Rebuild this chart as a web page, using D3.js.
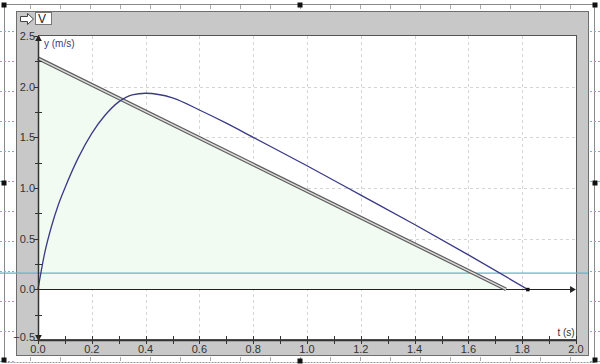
<!DOCTYPE html>
<html>
<head>
<meta charset="utf-8">
<script src="https://cdn.jsdelivr.net/npm/d3@7"></script>
<style>
  body { margin: 0; background: #fff; }
  text { font-family: 'Liberation Sans', Arial, sans-serif; }
</style>
</head>
<body>
<div id="chart"></div>
<script>
// measured velocity (navy curve)
const timeValues = [0, 0.025, 0.05, 0.075, 0.1, 0.15, 0.2, 0.25, 0.3, 0.35, 0.4, 0.5, 0.6, 0.7, 0.8, 1.0, 1.2, 1.4, 1.6, 1.82]
const velocityValues = [0, 0.36, 0.62, 0.83, 1.0, 1.3, 1.54, 1.72, 1.85, 1.92, 1.935, 1.89, 1.77, 1.64, 1.5, 1.22, 0.93, 0.64, 0.34, 0]

// fitted line (double line + green area)
const fitTimes = [0, 1.74]
const fitValues = [2.28, 0]

// horizontal cursor line
const cursorValue = 0.16

const xTicks = [0, 0.2, 0.4, 0.6, 0.8, 1.0, 1.2, 1.4, 1.6, 1.8, 2.0]
const xMinorTicks = [0.1, 0.3, 0.5, 0.7, 0.9, 1.1, 1.3, 1.5, 1.7, 1.9]
const yTicks = [-0.5, 0, 0.5, 1.0, 1.5, 2.0, 2.5]
const yMinorTicks = [-0.25, 0.25, 0.75, 1.25, 1.75, 2.25]

const title = 'V'
const xLabel = 't (s)'
const yLabel = 'y (m/s)'

let width = 600
let height = 364

let svg = d3
  .select('#chart')
  .append('svg')
  .attr('width', width)
  .attr('height', height)

let xScale = d3.scaleLinear().domain([0, 2]).range([38, 576])
let yScale = d3.scaleLinear().domain([-0.5, 2.5]).range([340, 36])

// page frame + sheet ruler marks
svg
  .append('path')
  .attr('d', 'M4.5,362.5 V4.5 H594.5 V362.5')
  .attr('fill', 'none')
  .attr('stroke', '#8a8a8a')
svg
  .append('line')
  .attr('x1', 4.5)
  .attr('x2', 594.5)
  .attr('y1', 362.5)
  .attr('y2', 362.5)
  .attr('stroke', '#999')
  .attr('stroke-dasharray', '2,1')

let rulerX = d3.range(30, 600, 30)
let rulerY = d3.range(31, 362, 30)

svg
  .selectAll('.ruler-top')
  .data(rulerX)
  .enter()
  .append('line')
  .attr('x1', d => d + 0.5)
  .attr('x2', d => d + 0.5)
  .attr('y1', 5)
  .attr('y2', 9)
  .attr('stroke', '#aaa')
svg
  .selectAll('.ruler-bottom')
  .data(rulerX)
  .enter()
  .append('line')
  .attr('x1', d => d + 0.5)
  .attr('x2', d => d + 0.5)
  .attr('y1', 357)
  .attr('y2', 361)
  .attr('stroke', '#aaa')
svg
  .selectAll('.ruler-left')
  .data(rulerY)
  .enter()
  .append('line')
  .attr('x1', 0)
  .attr('x2', 15)
  .attr('y1', d => d + 0.5)
  .attr('y2', d => d + 0.5)
  .attr('stroke', '#6fb8c8')
  .attr('stroke-dasharray', '2,2')
svg
  .selectAll('.ruler-right')
  .data(rulerY)
  .enter()
  .append('line')
  .attr('x1', 590)
  .attr('x2', 600)
  .attr('y1', d => d + 0.5)
  .attr('y2', d => d + 0.5)
  .attr('stroke', '#6fb8c8')
  .attr('stroke-dasharray', '2,2')

// gray window panel
svg
  .append('rect')
  .attr('x', 16.5)
  .attr('y', 11.5)
  .attr('width', 572)
  .attr('height', 344)
  .attr('fill', '#c8c8c8')
  .attr('stroke', '#6e6e6e')

// title arrow icon + box
svg
  .append('path')
  .attr('d', 'M20.5,16.5 H27.5 V13.5 L33.5,19 L27.5,24.5 V21.5 H20.5 Z')
  .attr('fill', '#fff')
  .attr('stroke', '#444')
svg
  .append('rect')
  .attr('x', 35.5)
  .attr('y', 12.5)
  .attr('width', 16)
  .attr('height', 12)
  .attr('fill', '#fff')
  .attr('stroke', '#777')
svg
  .append('text')
  .attr('x', 38)
  .attr('y', 23)
  .attr('font-size', 12)
  .attr('fill', '#222')
  .text(title)

// plot area
svg
  .append('rect')
  .attr('x', 38.5)
  .attr('y', 35.5)
  .attr('width', 538)
  .attr('height', 304)
  .attr('fill', '#fff')
  .attr('stroke', '#555')

// grid
svg
  .selectAll('.grid-x')
  .data(xTicks.slice(1, -1))
  .enter()
  .append('line')
  .attr('class', 'grid-x')
  .attr('x1', d => Math.round(xScale(d)) + 0.5)
  .attr('x2', d => Math.round(xScale(d)) + 0.5)
  .attr('y1', yScale(2.5))
  .attr('y2', yScale(-0.5))
  .attr('stroke', '#d4d4d4')
  .attr('stroke-dasharray', '3,3')
svg
  .selectAll('.grid-y')
  .data(yTicks.slice(1, -1))
  .enter()
  .append('line')
  .attr('class', 'grid-y')
  .attr('x1', xScale(0))
  .attr('x2', xScale(2))
  .attr('y1', d => Math.round(yScale(d)) + 0.5)
  .attr('y2', d => Math.round(yScale(d)) + 0.5)
  .attr('stroke', '#d4d4d4')
  .attr('stroke-dasharray', '3,3')

let fitData = fitTimes.map((t, i) => ({ t: t, v: fitValues[i] }))
let curveData = timeValues.map((t, i) => ({ t: t, v: velocityValues[i] }))

// green area under fit line
let area = d3
  .area()
  .x(d => xScale(d.t))
  .y0(yScale(0))
  .y1(d => yScale(d.v))

svg
  .append('path')
  .datum(fitData)
  .attr('d', area)
  .attr('fill', '#f1fbf1')

// cursor line
svg
  .append('line')
  .attr('x1', 0)
  .attr('x2', 588)
  .attr('y1', yScale(cursorValue))
  .attr('y2', yScale(cursorValue))
  .attr('stroke', '#62b4cf')
  .attr('stroke-width', 1.2)

// zero line with arrow
svg
  .append('line')
  .attr('x1', xScale(0))
  .attr('x2', xScale(2) - 2)
  .attr('y1', Math.round(yScale(0)) + 0.5)
  .attr('y2', Math.round(yScale(0)) + 0.5)
  .attr('stroke', '#222')
  .attr('stroke-width', 1.2)
svg
  .append('path')
  .attr('d', d3.symbol(d3.symbolTriangle, 20)())
  .attr('transform', `translate(${xScale(2) - 4},${Math.round(yScale(0)) + 0.5}) rotate(90)`)
  .attr('fill', '#222')

// fitted double line
let line = d3
  .line()
  .x(d => xScale(d.t))
  .y(d => yScale(d.v))

svg
  .append('path')
  .datum(fitData)
  .attr('d', line)
  .attr('fill', 'none')
  .attr('stroke', '#5e5e5e')
  .attr('stroke-width', 3.8)
svg
  .append('path')
  .datum(fitData)
  .attr('d', line)
  .attr('fill', 'none')
  .attr('stroke', '#dcdcdc')
  .attr('stroke-width', 1.4)

// measured curve
svg
  .append('path')
  .datum(curveData)
  .attr('d', line.curve(d3.curveMonotoneX))
  .attr('fill', 'none')
  .attr('stroke', '#3a3a86')
  .attr('stroke-width', 1.3)

let last = curveData[curveData.length - 1]
svg
  .append('rect')
  .attr('x', xScale(last.t) - 1.5)
  .attr('y', yScale(last.v) - 1.5)
  .attr('width', 3.5)
  .attr('height', 3.5)
  .attr('fill', '#111')

// y axis
svg
  .append('line')
  .attr('x1', 38.5)
  .attr('x2', 38.5)
  .attr('y1', yScale(2.5))
  .attr('y2', yScale(-0.5))
  .attr('stroke', '#333')
  .attr('stroke-width', 1.5)
svg
  .append('path')
  .attr('d', d3.symbol(d3.symbolTriangle, 20)())
  .attr('transform', `translate(38.5,${yScale(2.5) + 3})`)
  .attr('fill', '#222')
svg
  .append('path')
  .attr('d', d3.symbol(d3.symbolTriangle, 20)())
  .attr('transform', `translate(38.5,${yScale(-0.5) - 3}) rotate(180)`)
  .attr('fill', '#222')

svg
  .selectAll('.y-tick')
  .data(yTicks)
  .enter()
  .append('line')
  .attr('x1', 34)
  .attr('x2', 39)
  .attr('y1', d => Math.round(yScale(d)) + 0.5)
  .attr('y2', d => Math.round(yScale(d)) + 0.5)
  .attr('stroke', '#333')
svg
  .selectAll('.y-minor')
  .data(yMinorTicks)
  .enter()
  .append('line')
  .attr('x1', 35)
  .attr('x2', 42)
  .attr('y1', d => Math.round(yScale(d)) + 0.5)
  .attr('y2', d => Math.round(yScale(d)) + 0.5)
  .attr('stroke', '#333')
svg
  .selectAll('.y-label')
  .data(yTicks)
  .enter()
  .append('text')
  .attr('x', 35)
  .attr('y', d => (d === -0.5 ? yScale(d) + 1 : yScale(d) + 4))
  .attr('text-anchor', 'end')
  .attr('font-size', 11)
  .attr('fill', '#333')
  .text(d => d3.format('.1f')(d))

// x axis
svg
  .append('line')
  .attr('x1', xScale(0))
  .attr('x2', xScale(2))
  .attr('y1', 340.5)
  .attr('y2', 340.5)
  .attr('stroke', '#333')
  .attr('stroke-width', 1.5)
svg
  .selectAll('.x-tick')
  .data(xTicks.concat(xMinorTicks))
  .enter()
  .append('line')
  .attr('x1', d => Math.round(xScale(d)) + 0.5)
  .attr('x2', d => Math.round(xScale(d)) + 0.5)
  .attr('y1', 336)
  .attr('y2', 344)
  .attr('stroke', '#333')
svg
  .selectAll('.x-label')
  .data(xTicks)
  .enter()
  .append('text')
  .attr('x', d => xScale(d))
  .attr('y', 353)
  .attr('text-anchor', 'middle')
  .attr('font-size', 11)
  .attr('fill', '#333')
  .text(d => d3.format('.1f')(d))

// axis titles
svg
  .append('text')
  .attr('x', 566)
  .attr('y', 336)
  .attr('text-anchor', 'middle')
  .attr('font-size', 10)
  .attr('fill', '#333')
  .text(xLabel)
svg
  .append('text')
  .attr('x', 44)
  .attr('y', 47)
  .attr('font-size', 10)
  .attr('fill', '#3a3a86')
  .text(yLabel)

// selection handles
let handles = [[4, 5], [300, 5], [595, 5], [4, 183], [595, 183], [4, 360], [300, 361], [595, 360]]
svg
  .selectAll('.handle')
  .data(handles)
  .enter()
  .append('rect')
  .attr('x', d => d[0] - 2.5)
  .attr('y', d => d[1] - 2.5)
  .attr('width', 5)
  .attr('height', 5)
  .attr('fill', '#111')
</script>
</body>
</html>
